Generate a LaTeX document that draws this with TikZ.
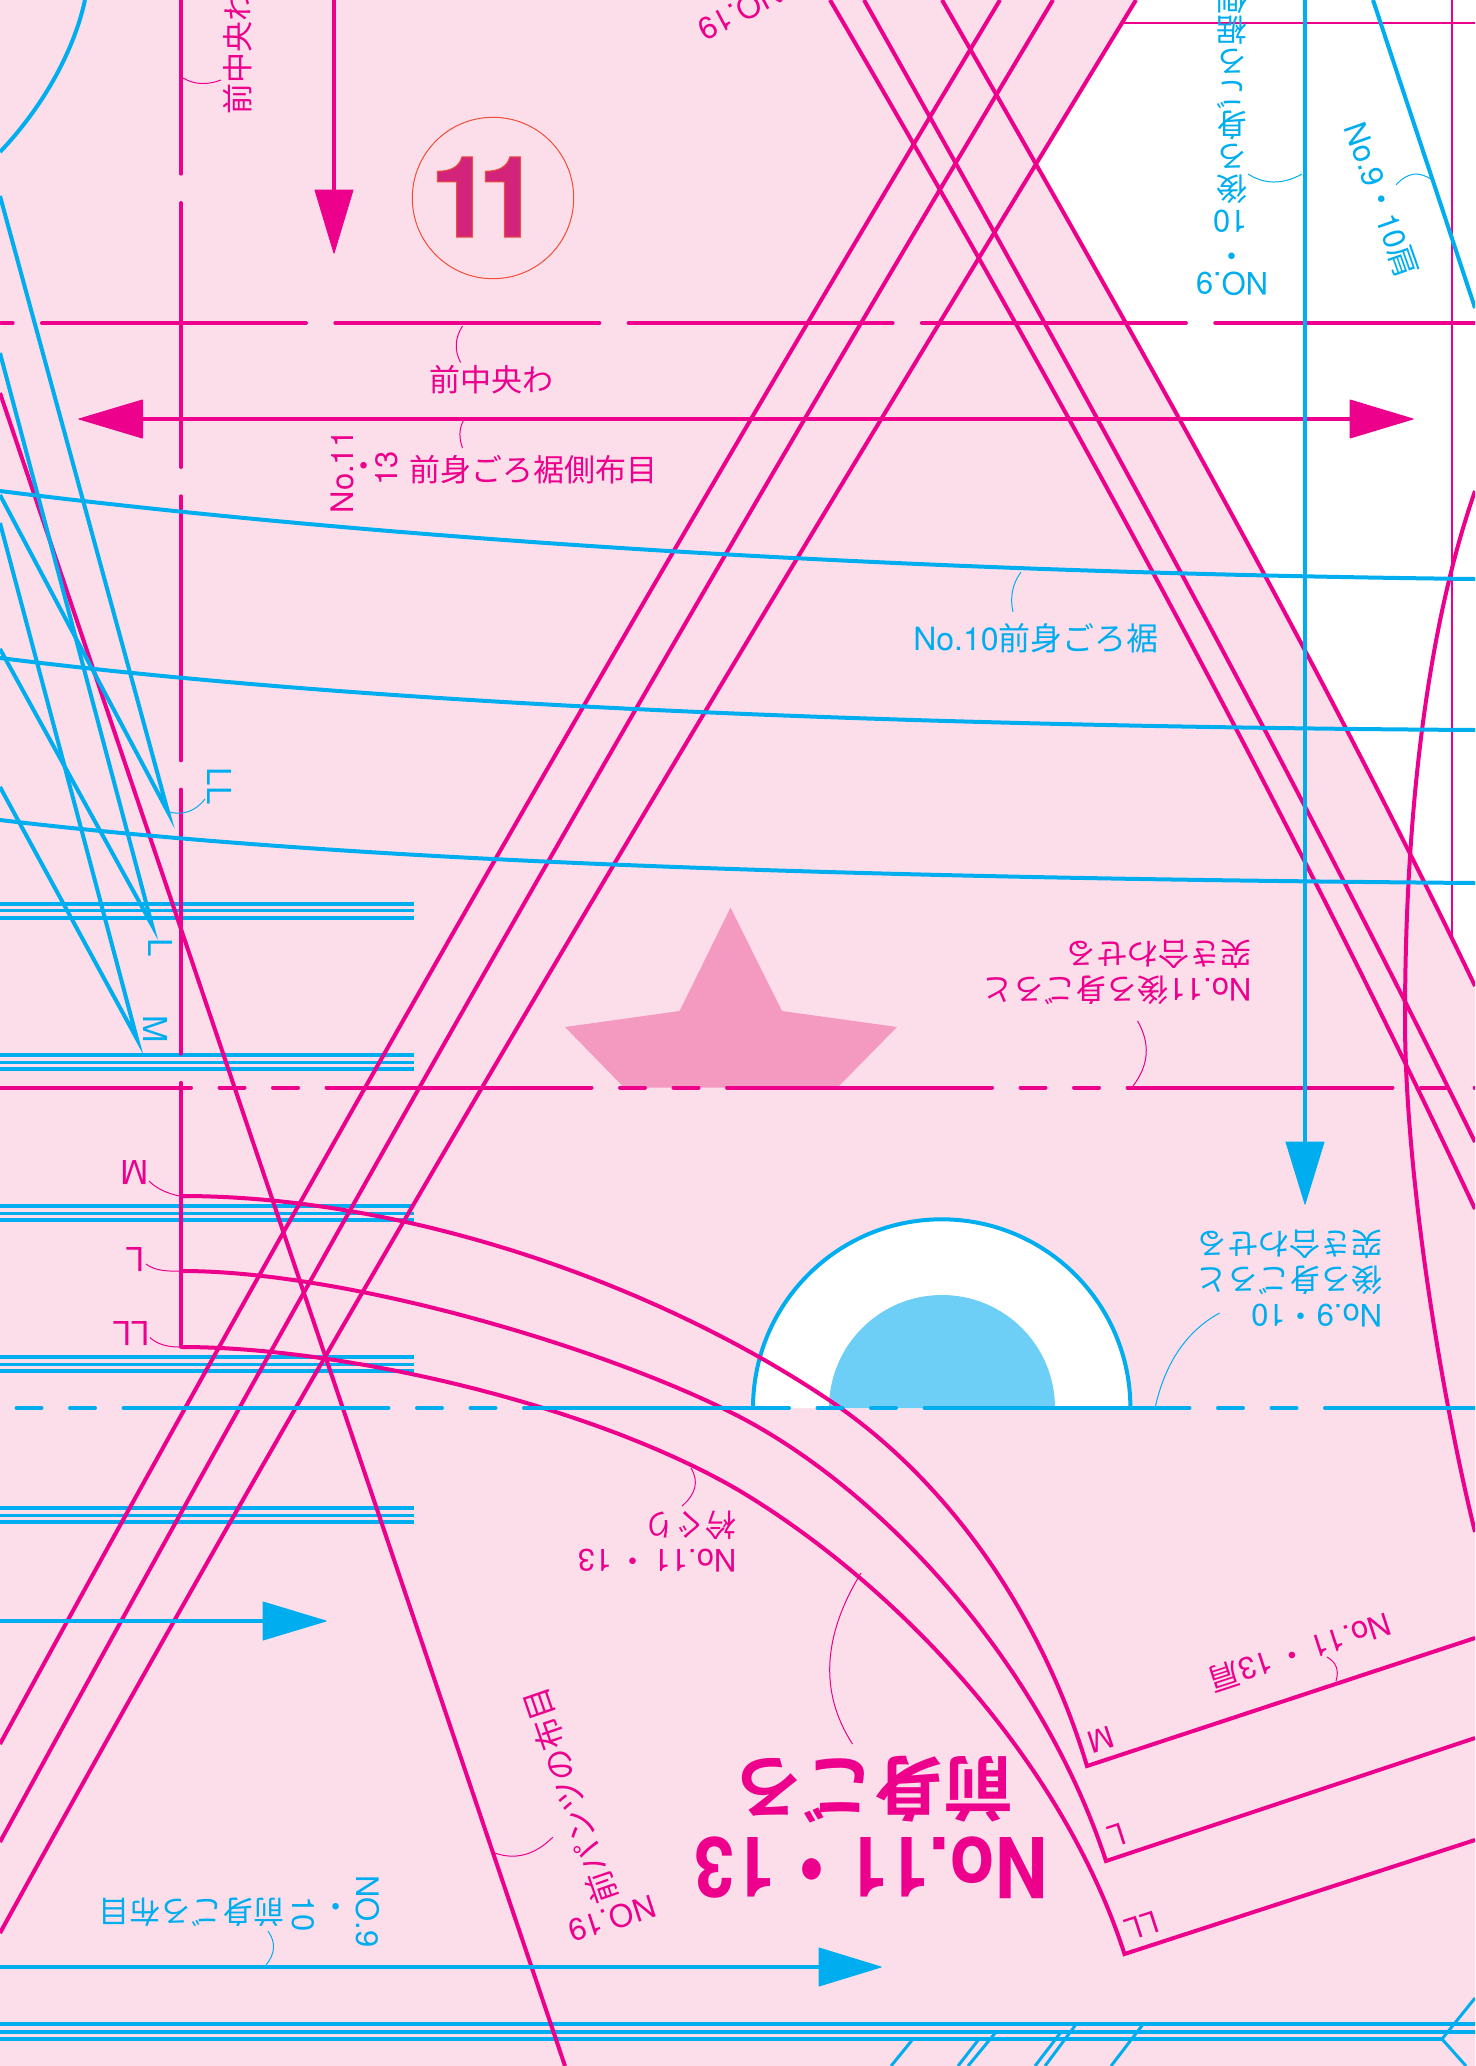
\documentclass[tikz,border=0pt]{standalone}
\usepackage{fontspec}
\setmainfont{TeX Gyre Heros}
\newfontfamily\cjk[BoldFont={Noto Sans CJK JP Bold}]{Noto Sans CJK JP}
\definecolor{mag}{HTML}{EC008C}
\definecolor{cya}{HTML}{00AEEF}
\definecolor{paper}{HTML}{FCDEEA}
\definecolor{starpink}{HTML}{F49AC1}
\definecolor{dotblue}{HTML}{6DCFF6}
\definecolor{markred}{HTML}{F04E37}
\definecolor{markfill}{HTML}{D2247A}
\newcommand{\jp}[1]{{\cjk #1}}
\newcommand{\lab}{\fontsize{31}{36}\selectfont}
\newcommand{\tagsize}{\fontsize{33}{36}\selectfont}
\tikzset{
  magline/.style={draw=mag,line width=4pt},
  cyaline/.style={draw=cya,line width=4pt},
  thinmag/.style={draw=mag,line width=1pt},
  thincya/.style={draw=cya,line width=1pt},
  foldmag/.style={magline,line cap=round,dash pattern=on 264pt off 29.3pt},
  seammag/.style={magline,line cap=round,dash pattern=on 265pt off 28.5pt on 25pt off 28.5pt on 25pt off 28.5pt},
  seamcya/.style={cyaline,line cap=round,dash pattern=on 265pt off 28.5pt on 25pt off 28.5pt on 25pt off 28.5pt},
  maglabel/.style={text=mag,inner sep=0pt,font=\lab},
  cyalabel/.style={text=cya,inner sep=0pt,font=\lab},
  biglabel/.style={text=mag,inner sep=0pt,transform shape}
}
\begin{document}
\begin{tikzpicture}[x=1pt,y=-1pt]
    \path [use as bounding box,clip] (0,0) rectangle (1475,2066);
    \fill [white] (0,0) rectangle (1475,2066);
    \fill [paper] (0,0) -- (1136,0) -- (1035,163) .. controls (1190,430) and (1325,680) .. (1475,986) -- (1475,2066) -- (0,2066) -- cycle;
    \fill [starpink] (730.5,907.6) -- (782,1011) -- (897,1027) -- (837.5,1087.5) -- (624,1087.5) -- (565,1027) -- (679.6,1011) -- cycle;
    \draw [cyaline,fill=white] (753,1408) arc [start angle=180,end angle=360,radius=188.7];
    \fill [dotblue] (829,1408) arc [start angle=180,end angle=360,radius=113];
    \foreach \y in {903.5,1055,1206,1357,1508} {
      \draw [cyaline] (0,\y) -- (414,\y);
      \draw [cyaline,line width=3pt] (0,\y+7.2) -- (414,\y+7.2);
      \draw [cyaline] (0,\y+14.4) -- (414,\y+14.4);
    }
    \draw [cyaline] (0,2024) -- (1475,2024);
    \draw [cyaline] (0,2031.5) -- (1475,2031.5);
    \draw [cyaline] (0,2039) -- (1442,2039);
    \draw [cyaline,line width=3pt] (913,2039) -- (891,2066);
    \draw [cyaline,line width=3pt] (979,2039) -- (958,2066);
    \draw [cyaline,line width=3pt] (996,2032) -- (968,2066);
    \draw [cyaline,line width=3pt] (1061,2032) -- (1035,2066);
    \draw [cyaline,line width=3pt] (1077,2023) -- (1045,2066);
    \draw [cyaline,line width=3pt] (1144,2023) -- (1111,2066);
    \draw [cyaline,line width=3pt] (1475,1998) -- (1442,2039) -- (1466,2066);
    \draw [draw=mag,line width=2pt] (1122,23) -- (1475,23);
    \draw [draw=mag,line width=2pt] (1452,0) -- (1452,936);
    \draw [foldmag] (181,-90.3) -- (181,1347);
    \draw [foldmag] (-251.3,323) -- (1475,323);
    \draw [seammag] (-74,1087.5) -- (1475,1087.5);
    \draw [magline] (334,0) -- (334,195);
    \filldraw [mag,line width=1pt,line join=round] (315,190) -- (353,190) -- (334,253) -- cycle;
    \draw [magline] (140,419) -- (1352,419);
    \filldraw [mag,line width=1pt,line join=round] (142.5,400) -- (142.5,438) -- (79,419) -- cycle;
    \filldraw [mag,line width=1pt,line join=round] (1350,400) -- (1350,438) -- (1413,419) -- cycle;
    \draw [magline] (0,393) -- (565,2066);
    \draw [magline] (1136,0) .. controls (743,644) and (354,1289) .. (0,1933);
    \draw [magline] (1053,0) .. controls (685,614) and (335,1228) .. (0,1842);
    \draw [magline] (1000,0) .. controls (651,581) and (317,1163) .. (0,1744);
    \draw [magline] (830,0) .. controls (1066,403) and (1286,806) .. (1475,1209);
    \draw [magline] (864,0) .. controls (1079,381) and (1288,761) .. (1475,1142);
    \draw [magline] (942,0) .. controls (1131,329) and (1317,657) .. (1475,986);
    \draw [magline] (1475,491) .. controls (1430,620) and (1405,800) .. (1405,1020) .. controls (1405,1170) and (1440,1390) .. (1475,1532);
    \draw [magline,line join=miter] (182,1196) .. controls (400,1196) and (650,1280) .. (829,1400) .. controls (945,1478) and (1040,1610) .. (1087,1766) -- (1475,1638);
    \draw [magline,line join=miter] (182,1271) .. controls (350,1271) and (614,1351) .. (740,1417) .. controls (880,1490) and (1040,1660) .. (1106,1861) -- (1475,1738);
    \draw [magline,line join=miter] (182,1347) .. controls (340,1347) and (590,1403) .. (740,1491) .. controls (890,1581) and (1060,1754) .. (1124.5,1954) -- (1475,1840);
    \draw [cyaline] (85,0) .. controls (73,55) and (40,110) .. (0,152);
    \draw [cyaline] (0,196) -- (168,812) -- (0,495);
    \draw [cyaline] (0,353) -- (152,925) -- (0,649);
    \draw [cyaline] (0,523) -- (137,1039) -- (0,787);
    \draw [cyaline] (1373,0) -- (1475,308);
    \draw [cyaline] (0,491) .. controls (350,535) and (850,572) .. (1475,579);
    \draw [cyaline] (0,658) .. controls (350,702) and (850,726) .. (1475,730);
    \draw [cyaline] (0,820) .. controls (350,862) and (850,878) .. (1475,883);
    \draw [cyaline] (1305,0) -- (1305,1145);
    \filldraw [cya,line width=1pt,line join=round] (1286,1142) -- (1324,1142) -- (1305,1204) -- cycle;
    \draw [cyaline] (0,1621) -- (265,1621);
    \filldraw [cya,line width=1pt,line join=round] (263,1602) -- (263,1640) -- (326,1621) -- cycle;
    \draw [cyaline] (0,1967) -- (822,1967);
    \filldraw [cya,line width=1pt,line join=round] (819,1948) -- (819,1986) -- (881,1967) -- cycle;
    \draw [seamcya] (-277,1408) -- (1475,1408);
    \draw [draw=markred,line width=1pt] (493,198) circle [radius=80.7];
    \node [inner sep=0pt,text=markfill,font=\fontsize{113}{113}\selectfont\bfseries] (sizemark) at (485,197) {\special{pdf:code 2 Tr 1 w 0.94 0.31 0.22 RG}1\kern-15pt 1\special{pdf:code 0 Tr}};
    \node [maglabel,rotate=90] (topfold) at (238,52) {\jp{前中央わ}};
    \node [maglabel] (frontfold) at (491,380) {\jp{前中央わ}};
    \node [maglabel,rotate=90] (grainno) at (342,472) {No.11};
    \node [maglabel] (graindot) at (364,470) {\jp{・}};
    \node [maglabel,rotate=90] (grainnum) at (387,468) {13};
    \node [maglabel] (grainname) at (533,470) {\jp{前身ごろ裾側布目}};
    \node [maglabel,rotate=208] (neckno) at (740,12) {NO.19};
    \node [cyalabel,rotate=180] (backno) at (1232,284) {NO.9};
    \node [cyalabel,rotate=180] (backdot) at (1232,252) {\jp{・}};
    \node [cyalabel,rotate=180] (backnum) at (1230,221) {10};
    \node [cyalabel,rotate=180,align=center,font=\fontsize{31}{31.7}\selectfont\cjk] (backname) at (1232,94) {後\\ろ\\身\\ご\\ろ\\裾\\側};
    \node [cyalabel,rotate=-70.7] (shoulderback) at (1381,200) {No.9\jp{・}10\jp{肩}};
    \node [cyalabel,font=\fontsize{32}{36}\selectfont] (hemback) at (1036,638) {No.10\jp{前身ごろ裾}};
    \node [maglabel,rotate=180,align=left] (matchfront) at (1117,972) {No.11\jp{後ろ身ごろと}\\\jp{突き合わせる}};
    \node [cyalabel,rotate=180,align=left] (matchback) at (1289,1279) {No.9\jp{・}10\\\jp{後ろ身ごろと}\\\jp{突き合わせる}};
    \node [maglabel,rotate=180,align=left] (necklabel) at (657,1542) {No.11\,\jp{・}\,13\\\jp{衿ぐり}};
    \node [maglabel,rotate=198] (shoulderfront) at (1300,1652) {No.11\,\jp{・}\,13\jp{肩}};
    \node [maglabel,rotate=198] (lowerno) at (612,1919) {NO.19};
    \node [maglabel,rotate=109,font=\fontsize{32}{36}\selectfont\cjk] (lowername) at (570,1796) {前パンツの布目};
    \node [cyalabel,rotate=-90] (bottomno) at (367.5,1911.5) {NO.9};
    \node [cyalabel] (bottomdot) at (336,1911) {\jp{・}};
    \node [cyalabel,rotate=-90] (bottomnum) at (303.5,1914) {10};
    \node [cyalabel,rotate=180] (bottomname) at (191.5,1912) {\jp{前身ごろ布目}};
    \node [biglabel,rotate=180,font=\fontsize{70}{70}\selectfont\bfseries\cjk] (titlename) at (873,1790) {前身ごろ};
    \node [biglabel,rotate=180,xscale=.87,font=\fontsize{84}{84}\selectfont\bfseries] (titleno) at (871,1868) {No.11\jp{・}13};
    \node [cyalabel,rotate=-90,font=\tagsize] (tagll) at (219.5,786) {LL};
    \node [cyalabel,rotate=-90,font=\tagsize] (tagl) at (160.5,948) {L};
    \node [cyalabel,rotate=-90,font=\tagsize] (tagm) at (156,1029.5) {M};
    \node [maglabel,rotate=180,font=\tagsize] (neckm) at (134.5,1173) {M};
    \node [maglabel,rotate=180,font=\tagsize] (neckl) at (135,1260) {L};
    \node [maglabel,rotate=180,font=\tagsize] (neckll) at (131,1334) {LL};
    \node [maglabel,rotate=198,font=\fontsize{30}{32}\selectfont] (cornerm) at (1101,1740) {M};
    \node [maglabel,rotate=198,font=\fontsize{30}{32}\selectfont] (cornerl) at (1117,1835) {L};
    \node [maglabel,rotate=198,font=\fontsize{30}{32}\selectfont] (cornerll) at (1142,1926) {LL};
    \draw [thinmag] (183,78) .. controls (194.3,84.7) and (207,85.3) .. (221,80);
    \draw [thinmag] (462.5,326) .. controls (454.8,338) and (454.2,350.2) .. (460.6,362.5);
    \draw [thinmag] (463.4,420.5) .. controls (459.1,428.8) and (458.8,438) .. (462.5,448);
    \draw [thincya] (1021,572) .. controls (1012.3,584) and (1009.7,597.3) .. (1013,612);
    \draw [thincya] (1432,180) .. controls (1419.3,170.7) and (1407.3,172.3) .. (1396,185);
    \draw [thincya] (1248,174) .. controls (1264.7,184.7) and (1283,184.7) .. (1302,174);
    \draw [thincya] (167.5,811.6) .. controls (182.5,815.9) and (195,811.7) .. (205,799);
    \draw [thinmag] (149,1181) .. controls (156.3,1188.3) and (166.5,1193.3) .. (179.5,1196);
    \draw [thinmag] (146,1264) .. controls (152.7,1269.3) and (163.7,1271.7) .. (179,1271);
    \draw [thinmag] (150,1337.5) .. controls (156.7,1343.8) and (166.3,1347) .. (179,1347);
    \draw [thinmag] (1137.6,1021) .. controls (1150.5,1043.7) and (1149,1065) .. (1133,1086);
    \draw [thincya] (1219.6,1313) .. controls (1186.5,1331) and (1165,1363) .. (1155,1408);
    \draw [thinmag] (691,1468) .. controls (699,1481.3) and (696,1494) .. (682,1506);
    \draw [thinmag] (861,1573) .. controls (822.3,1636.3) and (819.5,1693) .. (852.5,1744);
    \draw [thinmag] (1327,1657) .. controls (1336.3,1662.3) and (1339.3,1670.3) .. (1336,1681);
    \draw [thinmag] (492,1852) .. controls (514,1860.7) and (534.3,1855.7) .. (553,1837);
    \draw [thincya] (268,1931) .. controls (276,1942.3) and (275.3,1953.7) .. (266,1965);
\end{tikzpicture}
\end{document}
